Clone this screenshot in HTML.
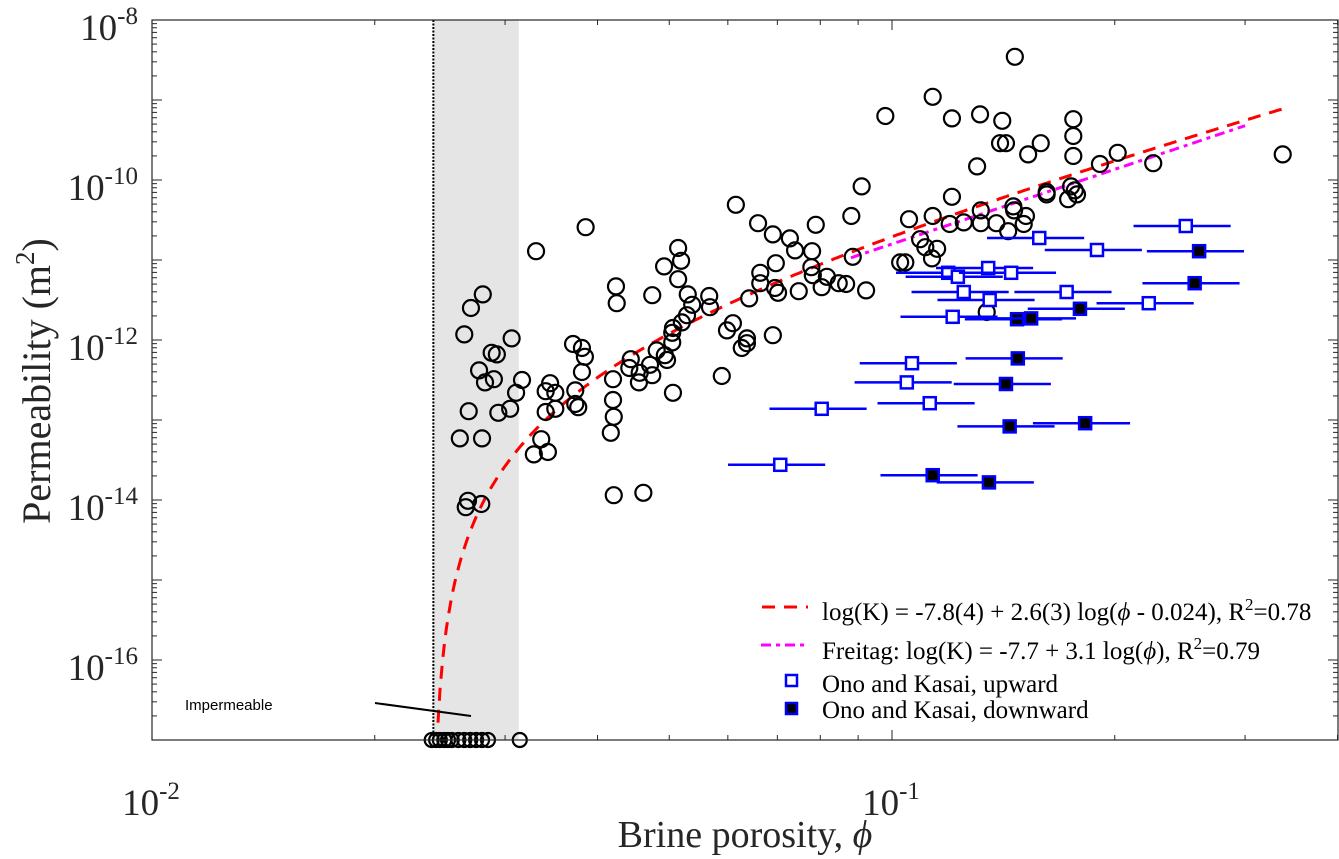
<!DOCTYPE html>
<html><head><meta charset="utf-8"><style>
html,body{margin:0;padding:0;background:#fff;}
svg{display:block;font-family:"Liberation Serif",serif;}
</style></head><body>
<svg id="chart" width="1339" height="859" viewBox="0 0 1339 859" xmlns="http://www.w3.org/2000/svg">
<rect width="1339" height="859" fill="#fff"/>
<g id="bg"></g><g id="grid"></g><g id="marks"></g><g id="axes"></g><g id="legend"></g>
</svg>
<script>
// ---- data (log10 values) ----
const circleLogPhi = [-1.553,-1.569,-1.578,-1.514,-1.541,-1.534,-1.558,-1.550,-1.538,-1.500,-1.508,-1.516,-1.572,-1.532,-1.584,-1.554,-1.573,-1.576,-1.555,-1.481,-1.414,-1.431,-1.419,-1.415,-1.419,-1.428,-1.462,-1.468,-1.455,-1.424,-1.428,-1.468,-1.455,-1.474,-1.484,-1.465,-1.373,-1.372,-1.377,-1.377,-1.376,-1.380,-1.376,-1.336,-1.324,-1.353,-1.355,-1.341,-1.342,-1.324,-1.327,-1.318,-1.304,-1.307,-1.296,-1.297,-1.297,-1.296,-1.284,-1.277,-1.270,-1.276,-1.289,-1.285,-1.289,-1.308,-1.247,-1.246,-1.215,-1.223,-1.196,-1.196,-1.203,-1.161,-1.230,-1.211,-1.181,-1.161,-1.138,-1.131,-1.103,-1.055,-1.108,-1.157,-1.178,-1.178,-1.158,-1.154,-1.193,-1.126,-1.109,-1.107,-1.095,-1.088,-1.072,-1.062,-1.035,-1.053,-0.977,-0.989,-0.982,-0.834,-0.945,-1.009,-0.919,-0.881,-0.851,-0.755,-0.755,-0.755,-0.854,-0.846,-0.799,-0.816,-0.885,-0.695,-0.719,-0.647,-0.472,-1.041,-0.919,-0.791,-0.791,-0.758,-0.753,-0.750,-0.762,-0.836,-0.835,-0.819,-0.822,-0.843,-0.859,-0.880,-0.880,-0.903,-0.922,-0.945,-0.962,-0.955,-0.939,-0.946,-0.872];
const circleLogK = [-11.43,-11.60,-11.93,-11.98,-12.16,-12.18,-12.38,-12.53,-12.49,-12.50,-12.66,-12.86,-12.89,-12.91,-13.23,-13.23,-14.01,-14.09,-14.05,-10.89,-10.59,-12.05,-12.10,-12.21,-12.40,-12.63,-12.54,-12.64,-12.66,-12.84,-12.80,-12.90,-12.86,-13.24,-13.43,-13.40,-11.33,-11.54,-12.49,-12.75,-12.96,-13.16,-13.94,-13.91,-11.44,-12.24,-12.35,-12.41,-12.53,-12.44,-12.31,-12.13,-12.25,-12.19,-12.66,-12.03,-11.91,-11.85,-11.78,-11.69,-11.56,-11.43,-11.24,-11.01,-10.85,-11.08,-11.45,-11.59,-11.79,-11.88,-11.98,-12.04,-12.10,-11.94,-12.45,-10.31,-10.54,-10.68,-10.73,-10.88,-10.56,-10.45,-10.89,-11.04,-11.16,-11.29,-11.35,-11.41,-11.48,-11.39,-11.09,-11.19,-11.34,-11.21,-11.29,-11.30,-11.38,-10.96,-10.49,-11.03,-11.03,-8.46,-8.96,-9.20,-9.23,-9.18,-9.26,-9.24,-9.45,-9.70,-9.54,-9.54,-9.54,-9.68,-9.83,-9.66,-9.80,-9.79,-9.68,-10.08,-10.21,-10.15,-10.18,-10.08,-10.13,-10.18,-10.24,-10.33,-10.38,-10.45,-10.55,-10.64,-10.54,-10.38,-10.54,-10.53,-10.55,-10.45,-10.74,-10.84,-10.86,-10.98,-11.65];
const impermLogPhi = [-1.622,-1.616,-1.611,-1.605,-1.600,-1.595,-1.586,-1.578,-1.570,-1.562,-1.554,-1.546,-1.503];
const impermLogK = -17.0;
const upLogPhi = [-0.603,-0.801,-0.723,-0.924,-0.911,-0.870,-0.839,-0.903,-0.764,-0.868,-0.653,-0.918,-0.973,-0.980,-0.949,-1.095,-1.151];
const upLogK = [-10.575,-10.725,-10.875,-11.16,-11.21,-11.10,-11.16,-11.40,-11.40,-11.50,-11.54,-11.71,-12.29,-12.53,-12.79,-12.86,-13.56];
const downLogPhi = [-0.585,-0.591,-0.746,-0.831,-0.812,-0.830,-0.846,-0.841,-0.739,-0.945,-0.869];
const downLogK = [-10.89,-11.29,-11.61,-11.74,-11.73,-12.23,-12.55,-13.08,-13.04,-13.69,-13.78];
const phiRelErr = 0.15;
const fitA = -7.8, fitB = 2.6, fitPhi0 = 0.024;
const freitagA = -7.7, freitagB = 3.1;
const xTickExps = [-2,-1];
const yTickExps = [-8,-10,-12,-16,-14];

// ---- axes ----
const L=152, R=1338, T=20, B=740, DEC=740;
const X = lp => L + (lp + 2) * DEC;
const Y = lk => T + (-8 - lk) * 80;
const NS="http://www.w3.org/2000/svg";
function mk(tag, attrs, parent){const e=document.createElementNS(NS,tag);for(const k in attrs)e.setAttribute(k,attrs[k]);parent.appendChild(e);return e;}
const bg=document.getElementById('bg'), marks=document.getElementById('marks'), axes=document.getElementById('axes'), legend=document.getElementById('legend');

const band=mk('rect',{x:X(Math.log10(0.024)),y:T,width:X(Math.log10(0.0313))-X(Math.log10(0.024)),height:B-T,fill:'#e5e5e5'},bg);


const vl=mk('line',{x1:X(Math.log10(0.024)),x2:X(Math.log10(0.024)),y1:T,y2:B,stroke:'#000','stroke-width':2,'stroke-dasharray':'2,1.5'},bg);



// fit curve
let d='';
for(let i=0;i<=400;i++){
  const lp=Math.log10(0.02403)+(Math.log10(0.34)-Math.log10(0.02403))*i/400;
  const phi=Math.pow(10,lp);
  const lk=fitA+fitB*Math.log10(phi-fitPhi0);
  if(lk<-17) continue;
  d+=(d?'L':'M')+X(lp).toFixed(1)+','+Y(lk).toFixed(1);
}
const fit=mk('path',{d:d,fill:'none',stroke:'#ff0000','stroke-width':3,'stroke-dasharray':'13,9'},marks);


let d2='';
for(let i=0;i<=50;i++){
  const lp=Math.log10(0.088)+(Math.log10(0.3)-Math.log10(0.088))*i/50;
  d2+=(i?'L':'M')+X(lp).toFixed(1)+','+Y(freitagA+freitagB*lp).toFixed(1);
}
const fr=mk('path',{d:d2,fill:'none',stroke:'#ff00ff','stroke-width':3,'stroke-dasharray':'10,5,4,5'},marks);



// circles
circleLogPhi.forEach((lp,i)=>{
  const c=mk('circle',{cx:X(lp),cy:Y(circleLogK[i]),r:8,fill:'none',stroke:'#000','stroke-width':2.2},marks);
  
  
});
impermLogPhi.forEach(lp=>{
  const c=mk('circle',{cx:X(lp),cy:Y(impermLogK),r:7,fill:'none',stroke:'#000','stroke-width':2.2},marks);
  
  
});
function sq(lps,lks,filled,name){
  lps.forEach((lp,i)=>{
    const phi=Math.pow(10,lp), y=Y(lks[i]);
    const e=mk('line',{x1:X(Math.log10(phi*(1-phiRelErr))),x2:X(Math.log10(phi*(1+phiRelErr))),y1:y,y2:y,stroke:'#0000ff','stroke-width':2.5},marks);
    
    
    const s=mk('rect',{x:X(lp)-6,y:y-6,width:12,height:12,fill:filled?'#000':'#fff',stroke:'#0000ff','stroke-width':2.5},marks);
    
    
  });
}
sq(upLogPhi,upLogK,false,'upward');
sq(downLogPhi,downLogK,true,'downward');

// frame and ticks
const fr2=mk('rect',{x:L,y:T,width:R-L,height:B-T,fill:'none',stroke:'#262626','stroke-width':1.2},axes);


for(let e=-17;e<-8;e++){
  for(let m=1;m<10;m++){
    const y=Y(e+Math.log10(m)); const len=m===1?10:5;
    if(y<T) continue;
    mk('line',{x1:L,x2:L+len,y1:y,y2:y,stroke:'#262626','stroke-width':1},axes);
    mk('line',{x1:R-len,x2:R,y1:y,y2:y,stroke:'#262626','stroke-width':1},axes);
  }
}
[0.02,0.03,0.04,0.05,0.06,0.07,0.08,0.09,0.1,0.2,0.3,0.4].forEach(v=>{
  const x=X(Math.log10(v)); const len=v===0.1?10:5;
  mk('line',{x1:x,x2:x,y1:B,y2:B-len,stroke:'#262626','stroke-width':1},axes);
  mk('line',{x1:x,x2:x,y1:T,y2:T+len,stroke:'#262626','stroke-width':1},axes);
});
xTickExps.forEach(e=>{
  const t=mk('text',{x:X(e)-1,y:815,'font-size':37,fill:'#262626','text-anchor':'middle'},axes);
  t.innerHTML='10<tspan font-size="25" dy="-16">'+e+'</tspan>';
  
  
});
yTickExps.forEach(e=>{
  const t=mk('text',{x:138,y:Y(e)+20,'font-size':37,fill:'#262626','text-anchor':'end'},axes);
  t.innerHTML='10<tspan font-size="25" dy="-16">'+e+'</tspan>';
  
  
});
const xt=mk('text',{x:745,y:847,'font-size':38,fill:'#262626','text-anchor':'middle'},axes);
xt.innerHTML='Brine porosity, <tspan font-style="italic">ϕ</tspan>';


const yt=mk('text',{x:0,y:0,'font-size':40,fill:'#262626','text-anchor':'middle',transform:'translate(50,381) rotate(-90)'},axes);
yt.innerHTML='Permeability (m<tspan font-size="27" dy="-16">2</tspan><tspan dy="16">)</tspan>';



// impermeable annotation
const it=mk('text',{x:185,y:710,'font-size':15,fill:'#000','font-family':'Liberation Sans, sans-serif'},axes);
it.textContent='Impermeable';


const al=mk('line',{x1:375,y1:703,x2:471,y2:716,stroke:'#000','stroke-width':2},axes);



// legend
function legText(y,html,name){
  const t=mk('text',{x:822,y:y+8,'font-size':25,fill:'#000'},legend);
  t.innerHTML=html;
  
  
}
const l1=mk('line',{x1:762,x2:808,y1:607,y2:607,stroke:'#ff0000','stroke-width':3,'stroke-dasharray':'13,9'},legend);


legText(612,'log(K) = -7.8(4) + 2.6(3) log(<tspan font-style="italic">ϕ</tspan> - 0.024), R<tspan font-size="17" dy="-10">2</tspan><tspan dy="10">=0.78</tspan>','legend-fit');
const l2=mk('line',{x1:761,x2:808,y1:645,y2:645,stroke:'#ff00ff','stroke-width':3,'stroke-dasharray':'10,5,4,5'},legend);


legText(651,'Freitag: log(K) = -7.7 + 3.1 log(<tspan font-style="italic">ϕ</tspan>), R<tspan font-size="17" dy="-10">2</tspan><tspan dy="10">=0.79</tspan>','legend-freitag');
const s1=mk('rect',{x:786,y:675,width:11,height:11,fill:'#fff',stroke:'#0000ff','stroke-width':2.5},legend);


legText(684,'Ono and Kasai, upward','legend-upward');
const s2=mk('rect',{x:786,y:703,width:11,height:11,fill:'#000',stroke:'#0000ff','stroke-width':2.5},legend);


legText(710,'Ono and Kasai, downward','legend-downward');
</script>
</body></html>
